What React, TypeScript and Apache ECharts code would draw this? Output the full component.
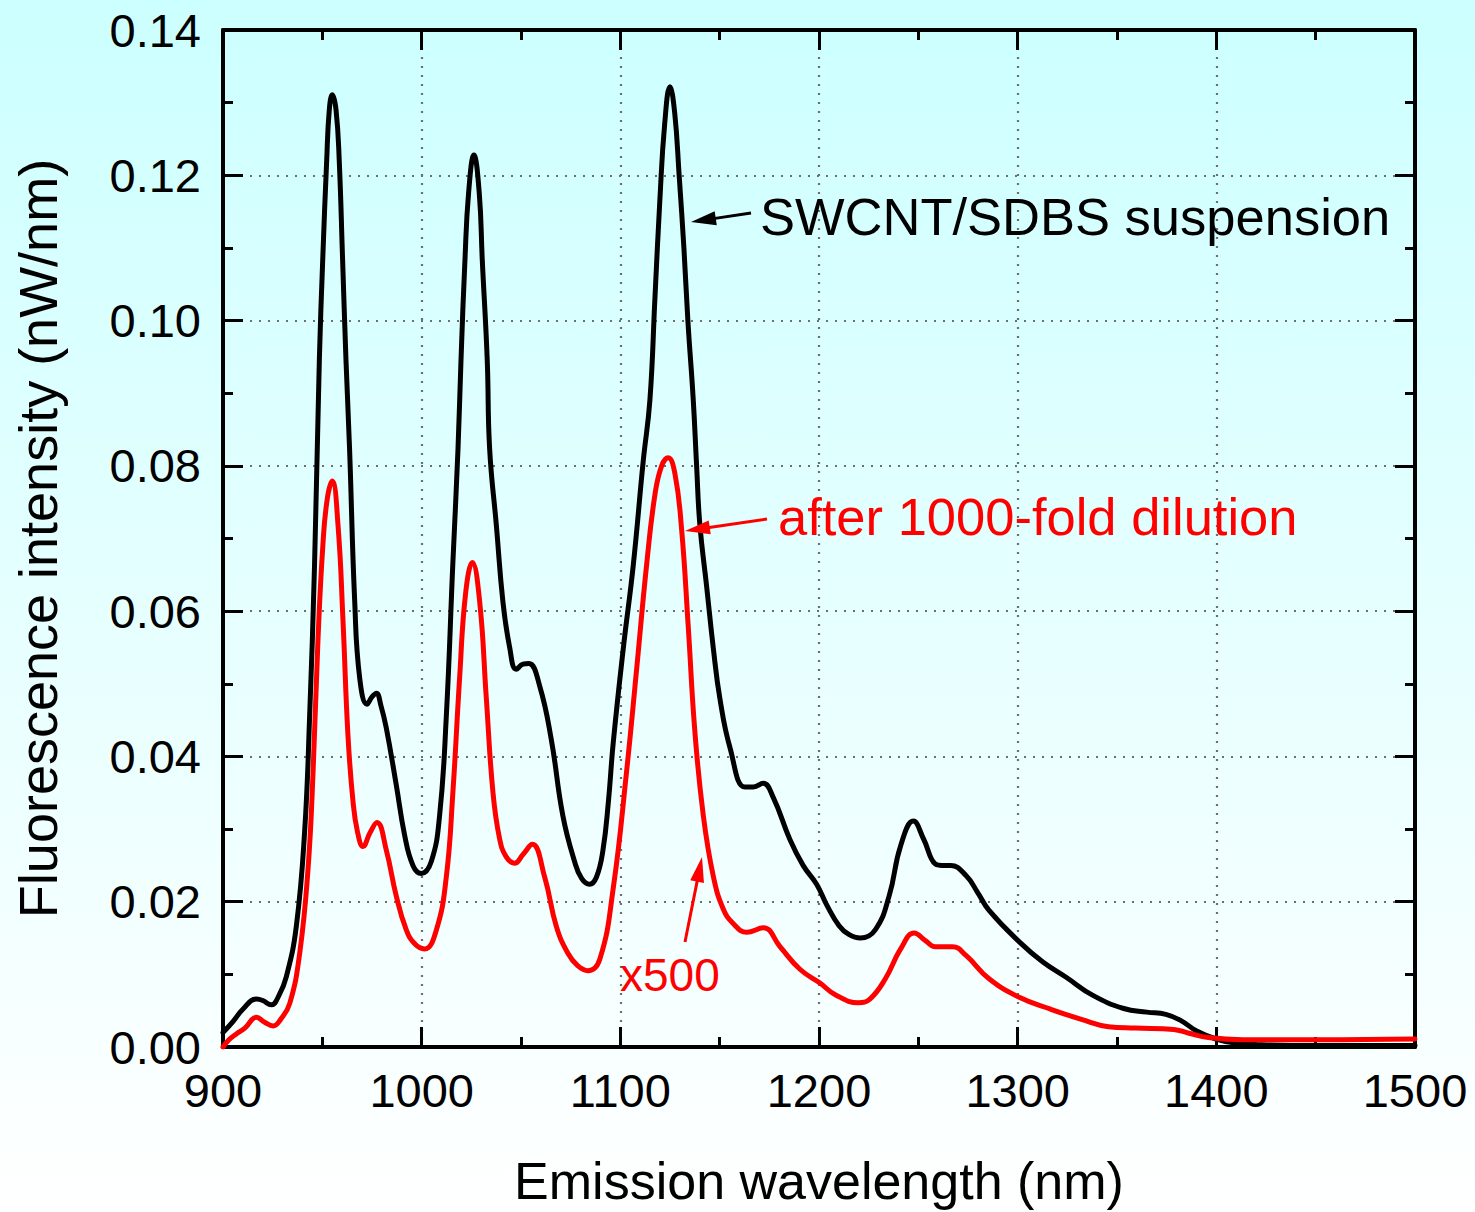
import { useEffect, useRef } from "react";
import * as echarts from "echarts";

// ---- data ----
const xMin = 900;
const xMax = 1500;
const xInterval = 100;
const yMin = 0;
const yMax = 0.14;
const yInterval = 0.02;

const blackWavelengths = [
  900, 905, 910, 916.8, 920, 924.3, 928, 931.9, 936.9, 941.1, 943.6, 946.1, 948.5, 950.2, 952.2, 953.5, 955,
  956.9, 958.5, 960.2, 961.9, 963.7, 966.3, 968.8, 972.5, 975, 977.2, 979.5, 982.2, 987.2, 991.4, 995.6, 999.8,
  1004.8, 1009, 1012.4, 1015.7, 1018.3, 1019.8, 1021.8, 1023.6, 1026.3, 1029, 1030.5, 1033, 1034.2, 1037.6,
  1040.9, 1044.3, 1047.6, 1051, 1054, 1059.4, 1065.2, 1071.1, 1077, 1080.5, 1084.5, 1088, 1091.2, 1094,
  1096.4, 1101.5, 1106.5, 1111.5, 1114.9, 1117.4, 1119.9, 1122.3, 1125, 1127.4, 1129.6, 1132, 1134, 1136.7,
  1138.4, 1140, 1143.4, 1146.8, 1150.1, 1155.2, 1162.7, 1167, 1171.9, 1176.9, 1185.3, 1192, 1198.8, 1204,
  1210.1, 1215, 1220.8, 1228.5, 1235.3, 1241.1, 1247.5, 1252.7, 1258.5, 1262, 1266.3, 1274, 1279.8, 1285.6,
  1301.1, 1312.7, 1324.4, 1337.9, 1353.4, 1365, 1374.6, 1382.4, 1390.1, 1399.8, 1409.5, 1423, 1450, 1500,
];
const blackIntensity = [
  0.002, 0.0035, 0.0052, 0.0066, 0.0064, 0.0058, 0.007, 0.0097, 0.0166, 0.0297, 0.0455, 0.0666, 0.0946, 0.1084,
  0.1221, 0.129, 0.1311, 0.129, 0.1221, 0.1084, 0.0946, 0.0824, 0.0613, 0.0508, 0.0472, 0.0482, 0.0487, 0.047,
  0.0439, 0.0361, 0.0292, 0.025, 0.0239, 0.0255, 0.0318, 0.0455, 0.0666, 0.0824, 0.0946, 0.1084, 0.1175, 0.1228,
  0.1175, 0.1084, 0.0946, 0.0824, 0.0718, 0.0613, 0.055, 0.052, 0.0527, 0.0528, 0.0497, 0.0424, 0.0318, 0.0255,
  0.0232, 0.0224, 0.0234, 0.027, 0.0338, 0.0418, 0.0549, 0.0663, 0.0806, 0.0891, 0.103, 0.1166, 0.127, 0.1322,
  0.1285, 0.12, 0.11, 0.1, 0.0891, 0.08, 0.072, 0.0635, 0.0549, 0.048, 0.0412, 0.0358, 0.0358, 0.0363, 0.0344,
  0.0286, 0.025, 0.0224, 0.0195, 0.0167, 0.0155, 0.015, 0.0162, 0.0208, 0.0277, 0.0311, 0.0286, 0.0252, 0.025,
  0.025, 0.0236, 0.0213, 0.0188, 0.0144, 0.0117, 0.0096, 0.0071, 0.0053, 0.0048, 0.0045, 0.0036, 0.0022, 0.0011,
  0.00055, 0.0003, 0.0002, 0.0002,
];

const redWavelengths = [
  900, 903, 906.7, 911, 916.8, 921, 925.2, 929, 933.6, 938.6, 942.8, 945.3, 947.8, 950.3, 952.5, 955, 957.9,
  960.4, 962.9, 965.4, 967.7, 970.5, 974, 977.5, 982.2, 987.2, 992.3, 996.5, 1001.5, 1007.4, 1012.4, 1015.7,
  1019.1, 1022.1, 1025.5, 1029.2, 1032.5, 1035.9, 1039.2, 1042.5, 1046.8, 1051, 1055.7, 1061.9, 1067.8, 1073.6,
  1078.5, 1083.7, 1089.7, 1096.4, 1103.1, 1108.2, 1113.2, 1117.4, 1120.8, 1124.1, 1127.5, 1130.8, 1134.2,
  1137.5, 1141.7, 1146.8, 1151.8, 1156.8, 1163.6, 1172, 1180.4, 1190.4, 1200.5, 1208.2, 1219.8, 1225.6, 1233.4,
  1241.1, 1247.9, 1253.7, 1258.5, 1267.2, 1274, 1285.6, 1301.1, 1316.6, 1332.1, 1345.7, 1359.2, 1378.5, 1386.2,
  1395.9, 1413.3, 1452, 1500,
];
const redIntensity = [
  0.0, 0.001, 0.0018, 0.0026, 0.0041, 0.0034, 0.0029, 0.0038, 0.006, 0.0129, 0.0245, 0.0376, 0.056, 0.0692,
  0.0755, 0.0779, 0.0718, 0.0587, 0.0429, 0.0339, 0.0296, 0.0276, 0.0295, 0.0309, 0.0271, 0.0208, 0.0161, 0.0142,
  0.0135, 0.0161, 0.0234, 0.035, 0.0508, 0.0624, 0.0667, 0.0613, 0.0482, 0.035, 0.0287, 0.0262, 0.0253, 0.0265,
  0.0279, 0.0234, 0.0166, 0.0129, 0.0112, 0.0105, 0.0121, 0.0218, 0.0378, 0.052, 0.0663, 0.076, 0.08, 0.0811,
  0.0789, 0.0714, 0.0578, 0.0435, 0.032, 0.0235, 0.019, 0.017, 0.0158, 0.0164, 0.0138, 0.0107, 0.0088, 0.0072,
  0.0061, 0.0066, 0.0094, 0.0135, 0.0157, 0.0146, 0.0138, 0.0138, 0.0126, 0.0094, 0.0068, 0.0052, 0.0038,
  0.0028, 0.0026, 0.0024, 0.0019, 0.0013, 0.001, 0.001, 0.0011,
];

const xTitle = "Emission wavelength (nm)";
const yTitle = "Fluorescence intensity (nW/nm)";
const blackLabel = "SWCNT/SDBS suspension";
const redLabel = "after 1000-fold dilution";
const scaleLabel = "x500";

const FONT = "'Liberation Sans', Arial, Helvetica, sans-serif";

function arrow(x1: number, y1: number, x2: number, y2: number, color: string) {
  const dx = x2 - x1;
  const dy = y2 - y1;
  const len = Math.sqrt(dx * dx + dy * dy);
  const ux = dx / len;
  const uy = dy / len;
  const headLen = 25;
  const headHalf = 7;
  const bx = x2 - ux * headLen;
  const by = y2 - uy * headLen;
  const nx = -uy * headHalf;
  const ny = ux * headHalf;
  return [
    {
      type: "line",
      shape: { x1, y1, x2: bx + ux * 4, y2: by + uy * 4 },
      style: { stroke: color, lineWidth: 3 },
      z: 100,
    },
    {
      type: "polygon",
      shape: {
        points: [
          [x2, y2],
          [bx + nx, by + ny],
          [bx - nx, by - ny],
        ],
      },
      style: { fill: color },
      z: 100,
    },
  ];
}

export default function App() {
  const ref = useRef<HTMLDivElement>(null);

  useEffect(() => {
    if (!ref.current) return;
    const chart = echarts.init(ref.current, undefined, { renderer: "svg" });

    const blackData = blackWavelengths.map((w, i) => [w, blackIntensity[i]]);
    const redData = redWavelengths.map((w, i) => [w, redIntensity[i]]);

    const axisLine = { show: true, onZero: false, lineStyle: { color: "#000", width: 4 } };
    const axisTick = { show: true, inside: true, length: 20, lineStyle: { color: "#000", width: 3 } };
    const minorTick = { show: true, splitNumber: 2, length: 10, lineStyle: { color: "#000", width: 3 } };
    const splitLine = { show: true, lineStyle: { color: "#6e6e6e", width: 2.2, type: [2, 7] } };

    chart.setOption({
      animation: false,
      backgroundColor: "transparent",
      grid: { left: 223, right: 60, top: 30, bottom: 164, containLabel: false },
      xAxis: [
        {
          type: "value",
          min: xMin,
          max: xMax,
          interval: xInterval,
          position: "bottom",
          axisLine,
          axisTick,
          minorTick,
          splitLine,
          axisLabel: {
            color: "#000",
            fontSize: 47,
            fontFamily: FONT,
            margin: 20,
            formatter: (v: number) => String(v),
          },
          name: xTitle,
          nameLocation: "middle",
          nameGap: 108,
          nameTextStyle: { color: "#000", fontSize: 52, fontFamily: FONT },
        },
        {
          type: "value",
          min: xMin,
          max: xMax,
          interval: xInterval,
          position: "top",
          axisLine,
          axisTick,
          minorTick,
          splitLine: { show: false },
          axisLabel: { show: false },
        },
      ],
      yAxis: [
        {
          type: "value",
          min: yMin,
          max: yMax,
          interval: yInterval,
          position: "left",
          axisLine,
          axisTick,
          minorTick,
          splitLine,
          axisLabel: {
            color: "#000",
            fontSize: 47,
            fontFamily: FONT,
            margin: 22,
            formatter: (v: number) => v.toFixed(2),
          },
          name: yTitle,
          nameLocation: "middle",
          nameGap: 158,
          nameRotate: 90,
          nameTextStyle: { color: "#000", fontSize: 54, fontFamily: FONT },
        },
        {
          type: "value",
          min: yMin,
          max: yMax,
          interval: yInterval,
          position: "right",
          axisLine,
          axisTick,
          minorTick,
          splitLine: { show: false },
          axisLabel: { show: false },
        },
      ],
      series: [
        {
          type: "line",
          data: blackData,
          showSymbol: false,
          smooth: 0.45,
          lineStyle: { color: "#000000", width: 5, join: "round", cap: "round" },
          z: 5,
        },
        {
          type: "line",
          data: redData,
          showSymbol: false,
          smooth: 0.45,
          lineStyle: { color: "#ff0000", width: 5, join: "round", cap: "round" },
          z: 6,
        },
      ],
      graphic: [
        {
          type: "text",
          left: 760,
          top: 190,
          style: { text: blackLabel, fill: "#000", fontSize: 52.5, fontFamily: FONT },
          z: 100,
        },
        {
          type: "text",
          left: 778,
          top: 490,
          style: { text: redLabel, fill: "#ff0000", fontSize: 52.5, fontFamily: FONT },
          z: 100,
        },
        {
          type: "text",
          left: 620,
          top: 952,
          style: { text: scaleLabel, fill: "#ff0000", fontSize: 46, fontFamily: FONT },
          z: 100,
        },
        ...arrow(751, 213, 691, 222, "#000000"),
        ...arrow(767, 519, 685, 531, "#ff0000"),
        ...arrow(685, 942, 702, 857, "#ff0000"),
      ],
    });

    return () => chart.dispose();
  }, []);

  return (
    <div
      style={{
        position: "absolute",
        left: 0,
        top: 0,
        width: 1475,
        height: 1212,
        background: "linear-gradient(to bottom, #ccffff 0%, #ffffff 100%)",
      }}
    >
      <div ref={ref} style={{ width: 1475, height: 1212 }} />
    </div>
  );
}
